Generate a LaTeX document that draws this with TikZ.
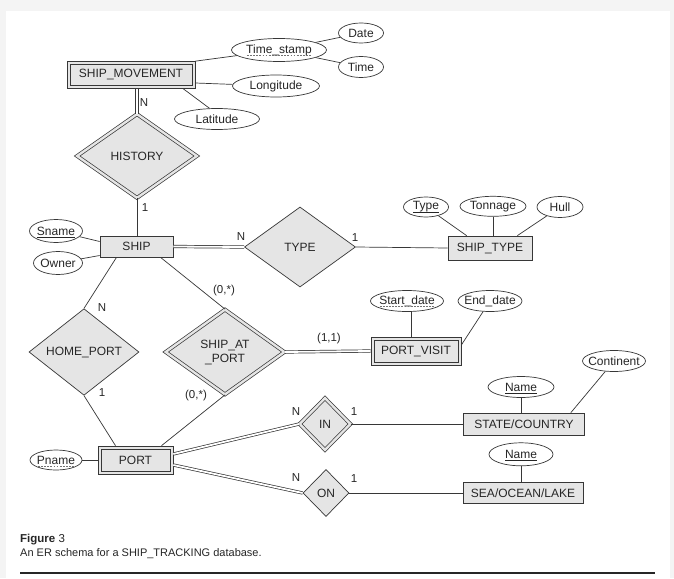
\documentclass[tikz,border=0pt]{standalone}
\usepackage{fontspec}
\setmainfont{Liberation Sans}
\usetikzlibrary{shapes.geometric, positioning}
\definecolor{boxgray}{RGB}{229,229,229}
\definecolor{linegray}{RGB}{55,55,55}
\definecolor{pagegray}{RGB}{244,244,244}

% underlines for key and partial key attributes
\newsavebox\ulbox
\newcommand{\keyul}[1]{\sbox\ulbox{#1}\rlap{\usebox\ulbox}\raisebox{-2.2pt}[0pt][0pt]{\rule{\wd\ulbox}{0.55pt}}}
\newcommand{\dashul}[1]{\sbox\ulbox{#1}\rlap{\usebox\ulbox}\raisebox{-2.2pt}[0pt][0pt]{\color{black!55}\hbox to \wd\ulbox{\xleaders\hbox to 3pt{\hss\vrule width 1.8pt height 0.55pt\hss}\hfill}}}

\begin{document}
\begin{tikzpicture}[
    x=1pt, y=-1pt,
    every node/.style={font=\fontsize{12}{14}\selectfont, text=black!85, inner sep=0pt},
    entity/.style={rectangle, draw=linegray, fill=boxgray, line width=0.7pt},
    attr/.style={ellipse, draw=linegray, fill=white, line width=0.7pt, inner xsep=-5pt},
    rel/.style={diamond, draw=linegray, fill=boxgray, line width=0.7pt},
    weakrel/.style={rel, double=boxgray, double distance=2.4pt},
    card/.style={font=\fontsize{11.5}{13}\selectfont},
    link/.style={draw=linegray, line width=0.7pt},
    dlink/.style={link, double=white, double distance=1.8pt}
]

% Page
\fill[pagegray] (0,0) rectangle (674,578);
\fill[white] (6,11) rectangle (670,578);
\useasboundingbox (0,0) rectangle (674,578);

% Entities (weak ones get an inner box)
\node[entity, minimum width=128, minimum height=27] (smove) at (131,75) {};
\node[entity, minimum width=122, minimum height=21] (smovein) at (smove) {SHIP\_MOVEMENT};
\node[entity, minimum width=73, minimum height=21] (ship) at (136.5,246.5) {SHIP};
\node[entity, minimum width=84, minimum height=24] (shiptype) at (490,248) {SHIP\_TYPE};
\node[entity, minimum width=90, minimum height=28] (pvisit) at (416,351) {};
\node[entity, minimum width=84, minimum height=22] (pvisitin) at (pvisit) {PORT\_VISIT};
\node[entity, minimum width=121, minimum height=22] (state) at (524,424) {STATE/COUNTRY};
\node[entity, minimum width=120, minimum height=21] (sea) at (523,493) {SEA/OCEAN/LAKE};
\node[entity, minimum width=75, minimum height=28] (port) at (135.5,460) {};
\node[entity, minimum width=69, minimum height=22] (portin) at (port) {PORT};

% Relationships
\node[weakrel, minimum width=120, minimum height=84] (history) at (137,156) {HISTORY};
\node[rel, minimum width=111, minimum height=80] (type) at (300,247) {TYPE};
\node[rel, minimum width=110, minimum height=78] (homeport) at (84,352) {HOME\_PORT};
\node[weakrel, minimum width=119, minimum height=85, align=center] (shipat) at (225,352) {SHIP\_AT\\\_PORT};
\node[weakrel, minimum width=51, minimum height=52] (in) at (325,424) {IN};
\node[rel, minimum width=46, minimum height=47] (on) at (326,493) {ON};

% Attributes
\node[attr, minimum width=95, minimum height=23] (tstamp) at (279,50) {\dashul{Time\_stamp}};
\node[attr, minimum width=45, minimum height=20] (date) at (361,33) {Date};
\node[attr, minimum width=45, minimum height=21] (time) at (361,67) {Time};
\node[attr, minimum width=87, minimum height=22] (longi) at (276,86) {Longitude};
\node[attr, minimum width=85, minimum height=21] (lat) at (217,119) {Latitude};
\node[attr, minimum width=53, minimum height=23] (sname) at (56,231) {\keyul{Sname}};
\node[attr, minimum width=49, minimum height=23] (owner) at (58,263) {Owner};
\node[attr, minimum width=45, minimum height=20] (ttype) at (426,207) {\keyul{Type}};
\node[attr, minimum width=66, minimum height=20, above=19pt of shiptype.north, xshift=3pt] (tonnage) {Tonnage};
\node[attr, minimum width=46, minimum height=21] (hull) at (560,207) {Hull};
\node[attr, minimum width=73, minimum height=21] (startd) at (407,301) {\dashul{Start\_date}};
\node[attr, minimum width=64, minimum height=21] (endd) at (490,301) {End\_date};
\node[attr, minimum width=63, minimum height=21] (continent) at (614,361) {Continent};
\node[attr, minimum width=66, minimum height=21] (statename) at (521,387) {\keyul{Name}};
\node[attr, minimum width=64, minimum height=23, above=16pt of sea.north, xshift=-2pt] (seaname) {\keyul{Name}};
\node[attr, minimum width=52, minimum height=20] (pname) at (56,460) {\dashul{Pname}};

% Edges
\draw[link] (smove.north east) -- (tstamp);
\draw[link] (tstamp) -- (date);
\draw[link] (tstamp) -- (time);
\draw[link] ([yshift=-8]smove.east) -- (longi);
\draw[link] ([xshift=-12]smove.south east) -- (lat.125);
\draw[dlink] (history.north |- smove.south) -- (history.north);
\draw[link] (history.south) -- (history.south |- ship.north);
\draw[link] (sname) -- ([yshift=5]ship.west);
\draw[link] (owner) -- ([yshift=-9]ship.west);
\draw[dlink] (ship.east) -- (type.west);
\draw[link] (type.east) -- (shiptype.west);
\draw[link] (ttype) -- ([xshift=19]shiptype.north west);
\draw[link] (tonnage) -- (tonnage |- shiptype.north);
\draw[link] (hull) -- ([xshift=-15]shiptype.north east);
\draw[link] ([xshift=-20]ship.south) -- (homeport.north);
\draw[link] ([xshift=24]ship.south) -- (shipat.north);
\draw[link] (homeport.south) -- ([xshift=-20]port.north);
\draw[link] (shipat.south) -- ([xshift=26]port.north);
\draw[dlink] (shipat.east) -- (pvisit.west);
\draw[link] ([xshift=4]startd.south) -- ([xshift=4]startd.south |- pvisit.north);
\draw[link] (endd) -- ([yshift=6]pvisit.east);
\draw[link] (statename) -- (statename |- state.north);
\draw[link] (continent) -- ([xshift=-14]state.north east);
\draw[dlink] ([yshift=6]port.east) -- (in.west);
\draw[link] (in.east) -- (state.west);
\draw[dlink] ([yshift=-5]port.east) -- (on.west);
\draw[link] (on.east) -- (sea.west);
\draw[link] (seaname) -- (seaname |- sea.north);
\draw[link] (pname) -- (port.west);

% Cardinalities
\node[card] (cmoveN) at (144,103) {N};
\node[card] (chist1) at (145,208) {1};
\node[card] (ctypeN) at (241,237) {N};
\node[card] (ctype1) at (355,238) {1};
\node[card] (chomeN) at (102,308) {N};
\node[card] (chome1) at (102,393) {1};
\node[card] (catship) at (224,291) {(0,*)};
\node[card] (catport) at (196,396) {(0,*)};
\node[card] (catvisit) at (329,339) {(1,1)};
\node[card] (cinN) at (296,412) {N};
\node[card] (cin1) at (354,412) {1};
\node[card] (conN) at (296,478) {N};
\node[card] (con1) at (354,479) {1};

% Caption
\node[anchor=west, font=\fontsize{11.5}{13}\selectfont] (figno) at (20,540) {\textbf{Figure} 3};
\node[anchor=west, font=\fontsize{11}{13}\selectfont] (figtext) at (20,554) {An ER schema for a SHIP\_TRACKING database.};
\coordinate (ruleL) at (20,573);
\coordinate (ruleR) at (655,573);
\draw[black!85, line width=1.2pt] (ruleL) -- (ruleR);

\end{tikzpicture}
\end{document}
